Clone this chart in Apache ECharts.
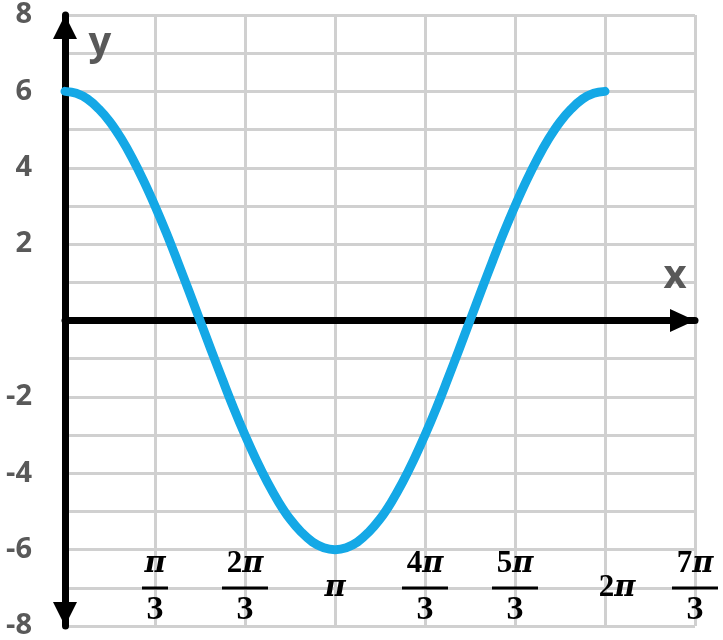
<!DOCTYPE html>
<html><head><meta charset="utf-8">
<script src="https://cdn.jsdelivr.net/npm/echarts@6/dist/echarts.min.js"></script>
<style>html,body{margin:0;padding:0;background:#fff}#c{width:723px;height:640px}</style>
</head><body><div id="c"></div>
<script>
// x positions in units of pi/3
const xThirds = [0, 0.125, 0.25, 0.375, 0.5, 0.625, 0.75, 0.875, 1, 1.125, 1.25, 1.375,
  1.5, 1.625, 1.75, 1.875, 2, 2.125, 2.25, 2.375, 2.5, 2.625, 2.75, 2.875,
  3, 3.125, 3.25, 3.375, 3.5, 3.625, 3.75, 3.875, 4, 4.125, 4.25, 4.375,
  4.5, 4.625, 4.75, 4.875, 5, 5.125, 5.25, 5.375, 5.5, 5.625, 5.75, 5.875, 6];
const yValues = [6, 5.95, 5.8, 5.54, 5.2, 4.76, 4.24, 3.65, 3, 2.3, 1.55, 0.78,
  0, -0.78, -1.55, -2.3, -3, -3.65, -4.24, -4.76, -5.2, -5.54, -5.8, -5.95,
  -6, -5.95, -5.8, -5.54, -5.2, -4.76, -4.24, -3.65, -3, -2.3, -1.55, -0.78,
  0, 0.78, 1.55, 2.3, 3, 3.65, 4.24, 4.76, 5.2, 5.54, 5.8, 5.95, 6];
const xTickNumerators = ['', 'π', '2π', 'π', '4π', '5π', '2π', '7π'];
const xTickDenominators = ['', '3', '3', '', '3', '3', '', '3'];
const yTickLabels = ['-8', '-6', '-4', '-2', '2', '4', '6', '8'];

const points = xThirds.map((x, i) => [x, yValues[i]]);
const serif = '"Liberation Serif", "DejaVu Serif", serif';
const piFont = '"DejaVu Serif", serif';

function xLabel(v) {
  const i = Math.round(v);
  const num = xTickNumerators[i];
  const den = xTickDenominators[i];
  if (!num) return '';
  const digit = num.slice(0, -1);
  if (den) {
    const top = (digit ? '{nd|' + digit + '}' : '') + '{np|π}';
    return top + '\n' + (digit ? '{barL| }' : '{barS| }') + '\n{d|' + den + '}';
  }
  const mid = digit ? '{sp| }{md|' + digit + '}{mp|π}' : '{mp|π}';
  return '{e1| }\n' + mid + '\n{e2| }';
}

const richStyles = {
  nd: {fontFamily: serif, fontWeight: 'bold', fontSize: 31, lineHeight: 28, color: '#000'},
  np: {fontFamily: piFont, fontWeight: 'bold', fontStyle: 'italic', fontSize: 29, lineHeight: 28, color: '#000'},
  barS: {width: 26, height: 3, lineHeight: 20, backgroundColor: '#000'},
  barL: {width: 46, height: 3, lineHeight: 20, backgroundColor: '#000'},
  d: {fontFamily: serif, fontWeight: 'bold', fontSize: 34, lineHeight: 24, color: '#000'},
  e1: {fontSize: 10, lineHeight: 28},
  e2: {fontSize: 10, lineHeight: 24},
  sp: {width: 24, lineHeight: 20},
  md: {fontFamily: serif, fontWeight: 'bold', fontSize: 31, lineHeight: 20, color: '#000'},
  mp: {fontFamily: piFont, fontWeight: 'bold', fontStyle: 'italic', fontSize: 29, lineHeight: 20, color: '#000'}
};

const chart = echarts.init(document.getElementById('c'), null, {renderer: 'canvas'});
chart.setOption({
  animation: false,
  backgroundColor: '#fff',
  grid: {left: 65, right: 28, top: 15, bottom: 14, containLabel: false, outerBoundsMode: 'none'},
  xAxis: [{
    // black x axis through y = 0
    type: 'value', min: 0, max: 7, interval: 1, z: 1,
    axisLine: {show: true, onZero: true, symbol: ['none', 'triangle'], symbolSize: [23, 25],
      symbolOffset: [0, -12.5], lineStyle: {color: '#000', width: 7}},
    axisTick: {show: false}, axisLabel: {show: false}, splitLine: {show: false}
  }, {
    // grid lines
    type: 'value', min: 0, max: 7, interval: 1, position: 'bottom', z: 0,
    axisLine: {show: false, onZero: false},
    axisTick: {show: false}, axisLabel: {show: false},
    splitLine: {show: true, lineStyle: {color: '#d0d0d0', width: 3}}
  }, {
    // tick labels
    type: 'value', min: 0, max: 7, interval: 1, position: 'bottom', z: 5,
    axisLine: {show: false, onZero: false},
    axisTick: {show: false}, splitLine: {show: false},
    axisLabel: {inside: true, margin: 4, formatter: xLabel, rich: richStyles}
  }],
  yAxis: {
    type: 'value', min: -8, max: 8, interval: 1, z: 1,
    axisLine: {show: true, onZero: false, symbol: ['triangle', 'triangle'], symbolSize: [24, 24],
      symbolOffset: [12, -12], lineStyle: {color: '#000', width: 7}},
    axisTick: {show: false},
    splitLine: {show: true, lineStyle: {color: '#d0d0d0', width: 3}},
    axisLabel: {
      margin: 33, fontFamily: '"Open Sans", sans-serif', fontWeight: 'bold', fontSize: 29, color: '#595959',
      formatter: v => yTickLabels.indexOf(String(v)) >= 0 ? String(v) : ''
    }
  },
  graphic: [
    {type: 'text', z: 10, style: {x: 100, y: 44, text: 'y', align: 'center', verticalAlign: 'middle',
      font: 'bold 40px "Open Sans"', fill: '#595959'}},
    {type: 'text', z: 10, style: {x: 675, y: 277, text: 'x', align: 'center', verticalAlign: 'middle',
      font: 'bold 40px "Open Sans"', fill: '#595959'}}
  ],
  series: [{
    type: 'line', xAxisIndex: 1, data: points, smooth: 0.4, showSymbol: false, z: 3,
    lineStyle: {color: '#14a8e6', width: 9, cap: 'round', join: 'round'}
  }]
});
</script></body></html>
